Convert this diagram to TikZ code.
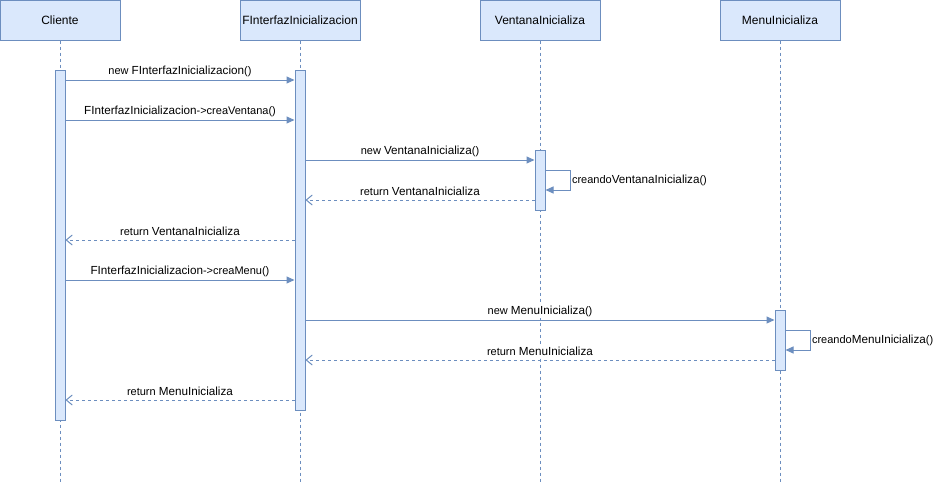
\documentclass[tikz,border=0pt]{standalone}
\usepackage{fontspec}
\setmainfont{Liberation Sans}
\usetikzlibrary{arrows.meta,positioning}
\definecolor{boxfill}{HTML}{DAE8FC}
\definecolor{boxline}{HTML}{6C8EBF}

\newcommand{\sm}[1]{{\fontsize{11}{13}\selectfont #1}}
\newcommand{\bg}[1]{{\fontsize{11.7}{14}\selectfont #1}}

\begin{document}
\begin{tikzpicture}[x=1pt,y=-1pt,
  head/.style={draw=boxline,fill=boxfill,line width=1pt,minimum width=120pt,minimum height=40pt,inner sep=0pt,font=\fontsize{12}{14}\selectfont},
  life/.style={draw=boxline,line width=1pt,dash pattern=on 3pt off 3pt},
  actbox/.style={draw=boxline,fill=boxfill,line width=1pt,minimum width=10pt,inner sep=0pt},
  msg/.style={draw=boxline,line width=1pt,-{Triangle[length=8pt,width=7pt]}},
  ret/.style={draw=boxline,line width=1pt,dash pattern=on 3pt off 3pt,-{Straight Barb[length=6pt,width=10pt]}},
  lbl/.style={fill=white,inner sep=1pt,text=black}]
\useasboundingbox (0,0) rectangle (938,482);
% lifeline heads
\node[head] (cli) at (60,20) {Cliente};
\node[head] (fin) at (300,20) {FInterfazInicializacion};
\node[head] (ven) at (540,20) {VentanaInicializa};
\node[head] (men) at (780,20) {MenuInicializa};
\foreach \h in {cli,fin,ven,men}
  \draw[life] (\h.south) -- (\h.south |- 0,482);
% activations
\node[actbox,minimum height=350pt] (actC) at (60,245) {};
\node[actbox,minimum height=340pt] (actF) at (300,240) {};
\node[actbox,minimum height=60pt] (actV) at (540,180) {};
\node[actbox,minimum height=60pt] (actM) at (780,340) {};
% messages
\draw[msg] (actC.east|-0,80) -- (actF.west|-0,80) node[midway,above=1.5pt,lbl] {\sm{new }\bg{FInterfazInicializacion}\sm{()}};
\draw[msg] (actC.east|-0,120) -- (actF.west|-0,120) node[midway,above=1.5pt,lbl] {\bg{FInterfazInicializacion}\sm{->creaVentana()}};
\draw[msg] (actF.east|-0,160) -- (actV.west|-0,160) node[midway,above=1.5pt,lbl] {\sm{new }\bg{VentanaInicializa}\sm{()}};
\draw[msg] (actV.east|-0,170) -| ++(25,10) node[right,lbl] {\sm{creando}\bg{VentanaInicializa}\sm{()}} |- (actV.east|-0,190);
\draw[ret] (actV.west|-0,200) -- (actF.east|-0,200) node[midway,above=2.5pt,lbl] {\sm{return }\bg{VentanaInicializa}};
\draw[ret] (actF.west|-0,240) -- (actC.east|-0,240) node[midway,above=2.5pt,lbl] {\sm{return }\bg{VentanaInicializa}};
\draw[msg] (actC.east|-0,280) -- (actF.west|-0,280) node[midway,above=1.5pt,lbl] {\bg{FInterfazInicializacion}\sm{->creaMenu()}};
\draw[msg] (actF.east|-0,320) -- (actM.west|-0,320) node[midway,above=1.5pt,lbl] {\sm{new }\bg{MenuInicializa}\sm{()}};
\draw[msg] (actM.east|-0,330) -| ++(25,10) node[right,lbl] {\sm{creando}\bg{MenuInicializa}\sm{()}} |- (actM.east|-0,350);
\draw[ret] (actM.west|-0,360) -- (actF.east|-0,360) node[midway,above=2.5pt,lbl] {\sm{return }\bg{MenuInicializa}};
\draw[ret] (actF.west|-0,400) -- (actC.east|-0,400) node[midway,above=2.5pt,lbl] {\sm{return }\bg{MenuInicializa}};
\end{tikzpicture}
\end{document}
